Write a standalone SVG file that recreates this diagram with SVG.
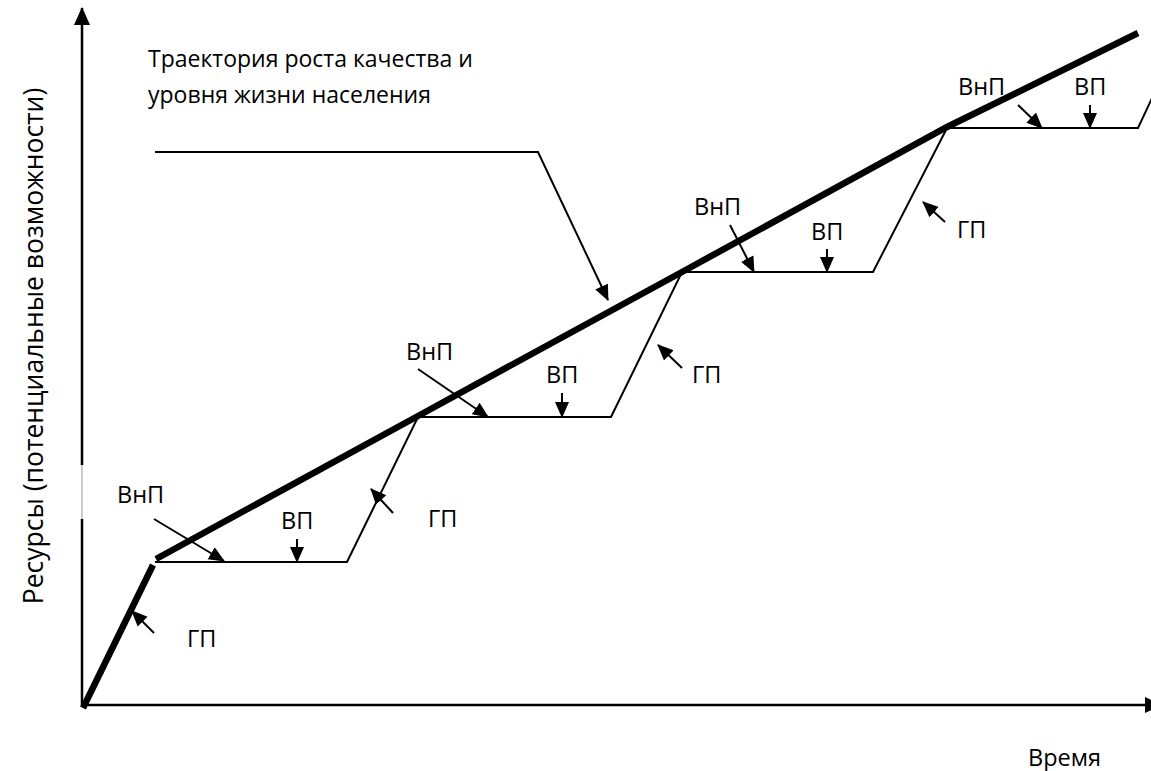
<svg xmlns="http://www.w3.org/2000/svg" width="1151" height="771" viewBox="0 0 1151 771">
<style>
text{font-family:"Open Sans","Liberation Sans",sans-serif;fill:#000}
.lbl{font-size:23.5px}
.ttl{font-size:23px}
.vt{font-size:26.5px}
.thin{fill:none;stroke:#000;stroke-width:2}
.thick{fill:none;stroke:#000;stroke-width:6.5;stroke-linecap:butt;stroke-linejoin:miter}
.arr{fill:none;stroke:#000;stroke-width:2;marker-end:url(#ah)}
.axis{fill:none;stroke:#000;stroke-width:2.5}
</style>
<defs>
<marker id="ah" markerUnits="userSpaceOnUse" markerWidth="16" markerHeight="16" viewBox="0 0 16 16" refX="15" refY="8" orient="auto">
<path d="M0,1 L16,8 L0,15 Z" fill="#000"/>
</marker>
<marker id="axh" markerUnits="userSpaceOnUse" markerWidth="18" markerHeight="18" viewBox="0 0 18 18" refX="17" refY="9" orient="auto">
<path d="M0,1 L18,9 L0,17 Z" fill="#000"/>
</marker>
</defs>
<rect width="1151" height="771" fill="#fff"/>
<g id="axes">
<line class="axis" x1="82" y1="705" x2="82" y2="519"/>
<line x1="82" y1="519" x2="82" y2="465" stroke="#999" stroke-width="1"/>
<line class="axis" x1="82" y1="465" x2="82" y2="8" marker-end="url(#axh)"/>
<line class="axis" x1="81" y1="705" x2="1162" y2="705" marker-end="url(#axh)"/>
<text class="vt" transform="translate(43,346) rotate(-90)" text-anchor="middle">Ресурсы (потенциальные возможности)</text>
<text class="lbl" x="1028" y="766">Время</text>
</g>
<g id="plateaus">
<path class="thin" d="M155,562 H347 L418,417 H611 L682,272 H873 L947,128 H1138 L1153,96"/>
</g>
<g id="trajectory">
<path class="thick" d="M83,708 L153,565"/>
<path class="thick" d="M156,559 L418,416 L682,272 L947,127 L1138,33"/>
</g>
<g id="title">
<text class="ttl" x="148" y="67">Траектория роста качества и</text>
<text class="ttl" x="148" y="103">уровня жизни населения</text>
</g>
<g id="connectors">
<polyline class="arr" points="155,152 538,152 608,300"/>
</g>
<g id="stage1">
<text class="lbl" x="117" y="503">ВнП</text>
<line class="arr" x1="154" y1="519" x2="224" y2="561"/>
<text class="lbl" x="281" y="529">ВП</text>
<line class="arr" x1="297" y1="539" x2="297" y2="562"/>
<text class="lbl" x="187" y="647">ГП</text>
<line class="arr" x1="154" y1="633" x2="132" y2="611"/>
</g>
<g id="stage2">
<text class="lbl" x="406" y="360">ВнП</text>
<line class="arr" x1="418" y1="369" x2="488" y2="417"/>
<text class="lbl" x="546" y="383">ВП</text>
<line class="arr" x1="562" y1="393" x2="562" y2="417"/>
<text class="lbl" x="428" y="527">ГП</text>
<line class="arr" x1="393" y1="513" x2="371" y2="489"/>
</g>
<g id="stage3">
<text class="lbl" x="694" y="215">ВнП</text>
<line class="arr" x1="730" y1="225" x2="754" y2="272"/>
<text class="lbl" x="811" y="240">ВП</text>
<line class="arr" x1="827" y1="249" x2="827" y2="272"/>
<text class="lbl" x="692" y="383">ГП</text>
<line class="arr" x1="682" y1="368" x2="658" y2="345"/>
</g>
<g id="stage4">
<text class="lbl" x="958" y="95">ВнП</text>
<line class="arr" x1="1018" y1="105" x2="1042" y2="128"/>
<text class="lbl" x="1074" y="95">ВП</text>
<line class="arr" x1="1090" y1="105" x2="1090" y2="128"/>
<text class="lbl" x="957" y="238">ГП</text>
<line class="arr" x1="945" y1="222" x2="923" y2="202"/>
</g>
</svg>
